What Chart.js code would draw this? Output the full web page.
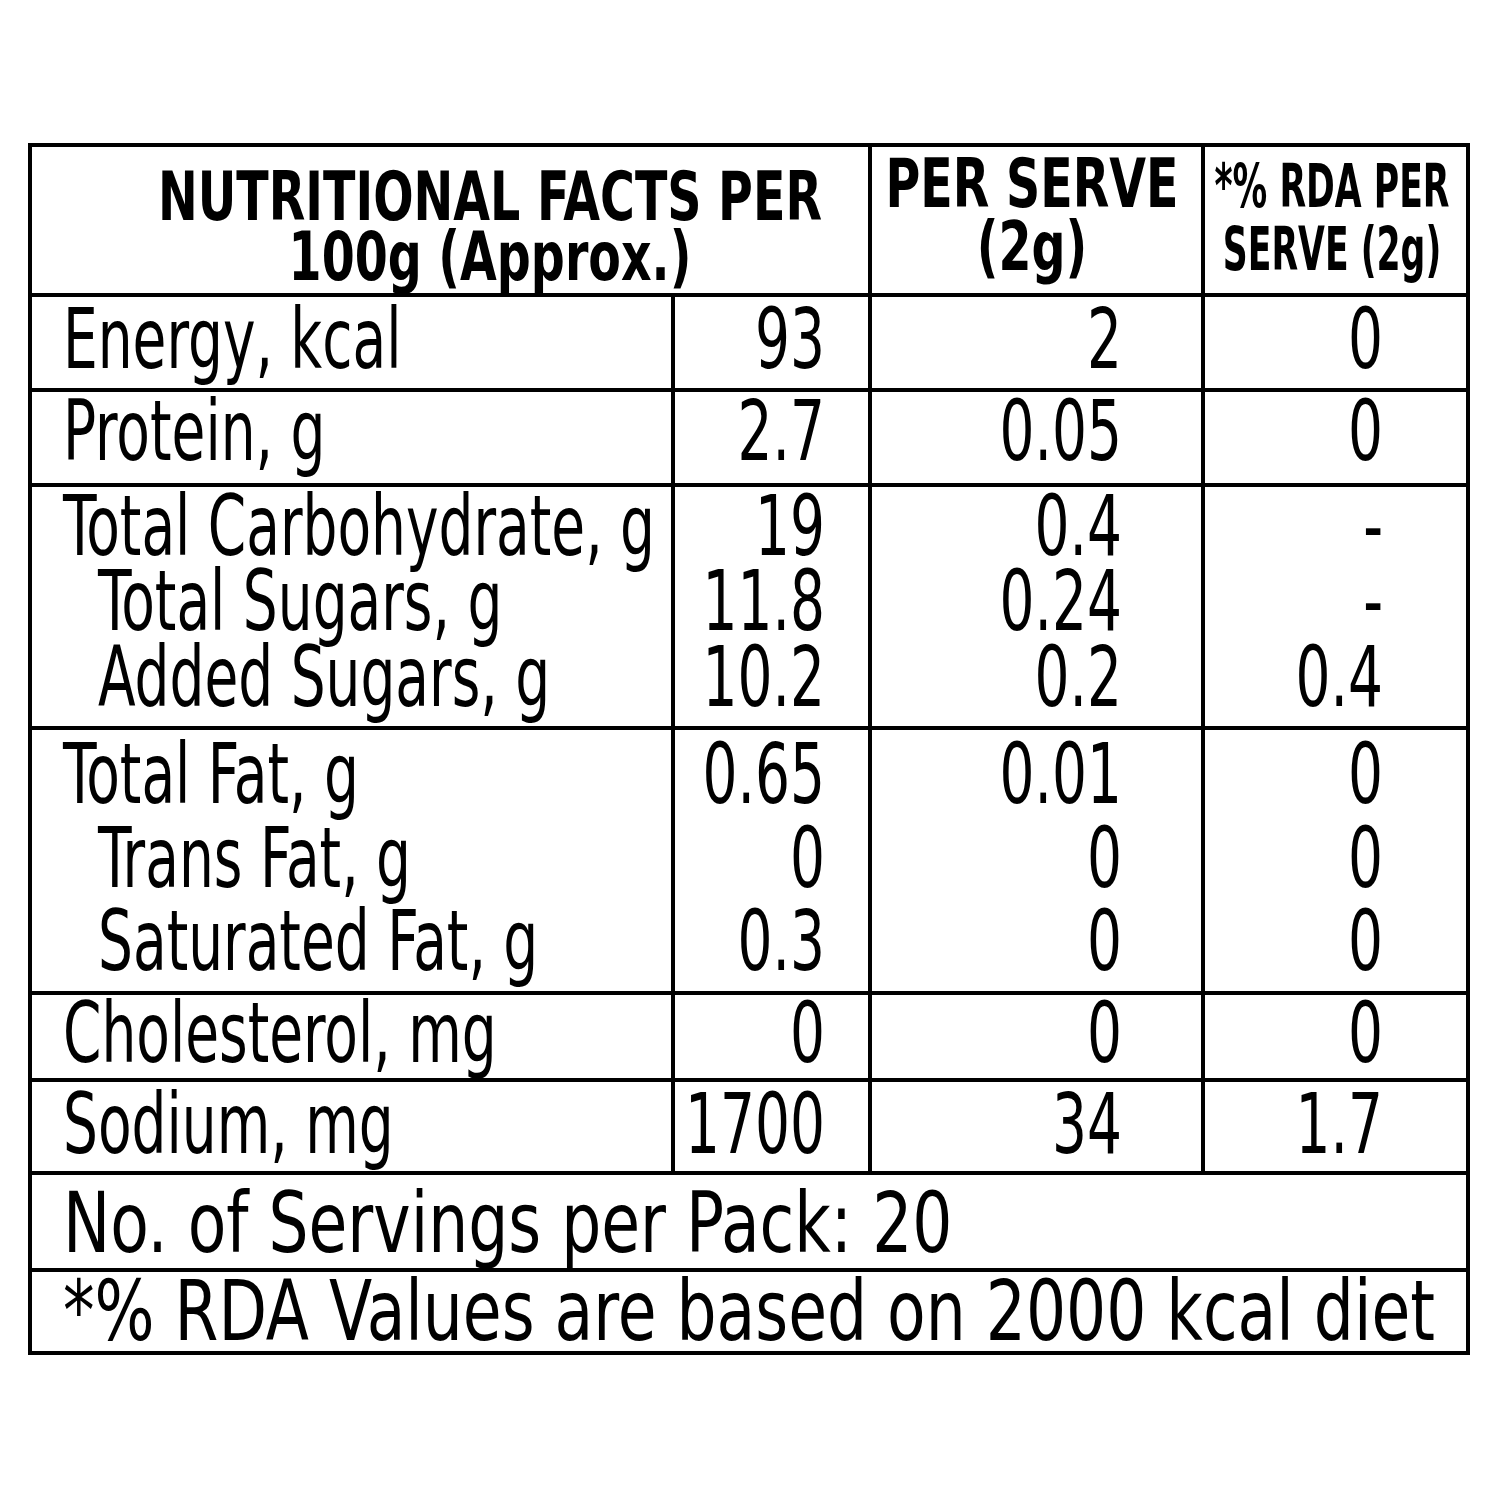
<!DOCTYPE html>
<html><head><meta charset="utf-8">
<script src="https://cdn.jsdelivr.net/npm/chart.js@4"></script>
<style>html,body{margin:0;background:#fff}</style></head>
<body><canvas id="c" width="1500" height="1500"></canvas>
<script>
const headers = [["NUTRITIONAL FACTS PER","100g (Approx.)"],["PER SERVE","(2g)"],["*% RDA PER","SERVE (2g)"]];
const nutrients = ["Energy, kcal","Protein, g","Total Carbohydrate, g","Total Sugars, g","Added Sugars, g","Total Fat, g","Trans Fat, g","Saturated Fat, g","Cholesterol, mg","Sodium, mg"];
const indented = [false,false,false,true,true,false,true,true,false,false];
const per100g = ["93","2.7","19","11.8","10.2","0.65","0","0.3","0","1700"];
const perServe = ["2","0.05","0.4","0.24","0.2","0.01","0","0","0","34"];
const rda = ["0","0","-","-","0.4","0","0","0","0","1.7"];
const footer = ["No. of Servings per Pack: 20","*% RDA Values are based on 2000 kcal diet"];

const baselines=[368,460,555,630,706,803,887,970,1062,1153];
const hLines=[145,295,390,485,728,993,1080,1173,1270,1353];
const FONT='"Liberation Sans Narrow","DejaVu Sans Condensed",sans-serif';

function txt(ctx,t,x,y,size,bold,sx,align){
  ctx.save();ctx.font=(bold?'bold ':'')+size+'px '+FONT;ctx.fillStyle='#000';
  ctx.translate(x,y);ctx.scale(sx,1);ctx.textAlign=align||'left';ctx.textBaseline='alphabetic';
  ctx.fillText(t,0,0);ctx.restore();
}
function fit(ctx,t,size,bold,w){ctx.font=(bold?'bold ':'')+size+'px '+FONT;return w/ctx.measureText(t).width;}

const tablePlugin={id:'table',afterDraw(chart){
  const ctx=chart.ctx, X=chart.scales.x, Y=chart.scales.y;
  const px=v=>X.getPixelForValue(v), py=v=>Y.getPixelForValue(v);
  ctx.save();ctx.strokeStyle='#000';ctx.lineWidth=4;
  ctx.strokeRect(px(30),py(145),px(1468)-px(30),py(1353)-py(145));
  hLines.slice(1,-1).forEach(h=>{ctx.beginPath();ctx.moveTo(px(30),py(h));ctx.lineTo(px(1468),py(h));ctx.stroke();});
  [[673,295,1173],[870,145,1173],[1203,145,1173]].forEach(([x,a,b])=>{ctx.beginPath();ctx.moveTo(px(x),py(a));ctx.lineTo(px(x),py(b));ctx.stroke();});
  ctx.restore();
  // headers
  const hs=fit(ctx,headers[0][0],68,true,664);
  txt(ctx,headers[0][0],px(490),py(220),68,true,hs,'center');
  txt(ctx,headers[0][1],px(490),py(280),68,true,hs,'center');
  txt(ctx,headers[1][0],px(1032),py(207),68,true,hs,'center');
  txt(ctx,headers[1][1],px(1032),py(270),68,true,hs,'center');
  const hs3=fit(ctx,headers[2][0],60,true,235);
  txt(ctx,headers[2][0],px(1332),py(207),60,true,hs3,'center');
  txt(ctx,headers[2][1],px(1332),py(270),60,true,hs3,'center');
  const bs=fit(ctx,"Total Carbohydrate, g",84,false,592);
  nutrients.forEach((n,i)=>{
    const y=py(baselines[i]);
    txt(ctx,n,px(indented[i]?98:63),y,84,false,bs);
    txt(ctx,per100g[i],px(825),y,84,false,bs,'right');
    txt(ctx,perServe[i],px(1122),y,84,false,bs,'right');
    txt(ctx,rda[i],px(1383),y,84,false,bs,'right');
  });
  const fs=fit(ctx,footer[1],84,false,1372);
  txt(ctx,footer[0],px(63),py(1252),84,false,fs);
  txt(ctx,footer[1],px(63),py(1340),84,false,fs);
}};
new Chart(document.getElementById('c'),{type:'scatter',data:{datasets:[{data:[]}]},
 options:{responsive:false,animation:false,layout:{padding:0},plugins:{legend:{display:false},tooltip:{enabled:false}},
 scales:{x:{type:'linear',min:0,max:1500,display:false},y:{type:'linear',min:0,max:1500,reverse:true,display:false}}},
 plugins:[tablePlugin]});
</script></body></html>
